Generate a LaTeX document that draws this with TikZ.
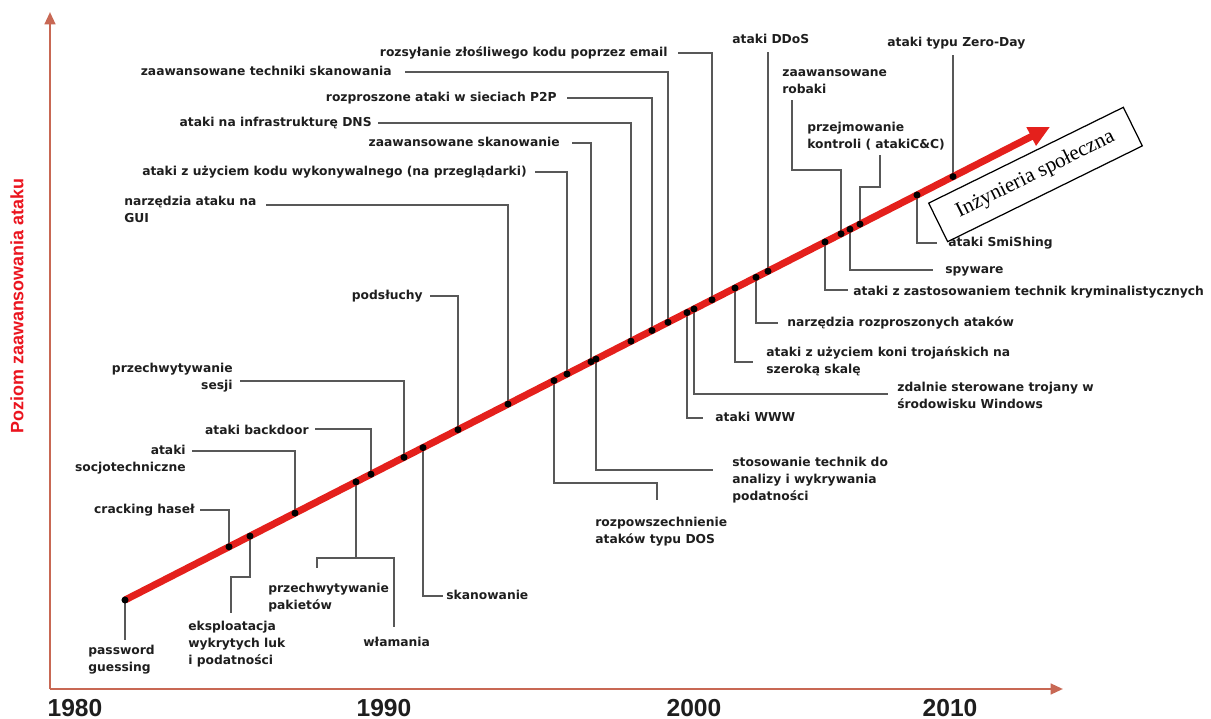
\documentclass[tikz,border=0pt]{standalone}
\usepackage{fontspec}
\usetikzlibrary{arrows.meta,calc}
\newfontfamily\lblfamily{DejaVu Sans}
\newfontfamily\yearfamily{Liberation Sans}
\newfontfamily\boxfamily{Liberation Serif}
\definecolor{axiscol}{RGB}{200,104,84}
\definecolor{trendred}{RGB}{228,32,28}
\definecolor{leadgray}{RGB}{88,88,88}
\definecolor{txt}{RGB}{30,30,30}
\definecolor{ylabred}{RGB}{235,20,30}
\begin{document}
\begin{tikzpicture}[x=0.02cm,y=-0.02cm,
  lbl/.style={font=\lblfamily\bfseries\fontsize{7}{9.6}\selectfont, text=txt, inner sep=0pt},
  lbll/.style={lbl, anchor=base west, align=left},
  lblr/.style={lbl, anchor=base east, align=right},
  lead/.style={draw=leadgray, line width=0.85pt},
  axis/.style={draw=axiscol, line width=1.4pt, -{Triangle[length=7pt,width=6pt]}},
  year/.style={font=\yearfamily\bfseries\fontsize{14}{16}\selectfont, text=txt, inner sep=0pt},
  evdot/.style={fill=black}]

\useasboundingbox (0,0) rectangle (1211,719);
\fill[white] (0,0) rectangle (1211,719);

% axes
\coordinate (origin) at (50,689);
\coordinate (ytip) at (50,12);
\coordinate (xtip) at (1063,689);
\draw[axis] (origin) -- (ytip);
\draw[axis] (origin) -- (xtip);

\node[font=\yearfamily\bfseries\fontsize{10.2}{12}\selectfont, text=ylabred, rotate=90] (ylab) at (17,306) {Poziom zaawansowania ataku};

\node[year] (y1980) at (75,708) {1980};
\node[year] (y1990) at (384,708) {1990};
\node[year] (y2000) at (694,708) {2000};
\node[year] (y2010) at (950,708) {2010};

% events on the trend line
\coordinate (tStart) at (125,600);
\coordinate (tEnd) at (1050,127);
\coordinate (dPG) at (125,600);
\coordinate (dCrack) at (229,546.8);
\coordinate (dEks) at (250,536.1);
\coordinate (dSoc) at (295,513.1);
\coordinate (dPak) at (356,481.9);
\coordinate (dBack) at (371,474.2);
\coordinate (dSes) at (404,457.3);
\coordinate (dSkan) at (423,447.6);
\coordinate (dPods) at (458,429.7);
\coordinate (dGui) at (508,404.1);
\coordinate (dDos) at (554,380.6);
\coordinate (dKod) at (567,374.0);
\coordinate (dZsk) at (591,361.7);
\coordinate (dStos) at (596,359.1);
\coordinate (dDns) at (631,341.2);
\coordinate (dP2p) at (652,330.5);
\coordinate (dTech) at (668,322.3);
\coordinate (dWww) at (687,312.6);
\coordinate (dZdal) at (694,309.0);
\coordinate (dMail) at (712,299.8);
\coordinate (dKoni) at (735,288.0);
\coordinate (dNarz) at (756,277.3);
\coordinate (dDdos) at (768,271.2);
\coordinate (dKrym) at (825,242.0);
\coordinate (dRob) at (841,233.8);
\coordinate (dSpy) at (850,229.2);
\coordinate (dCc) at (860,224.1);
\coordinate (dSmi) at (917,195.0);
\coordinate (dZero) at (953,176.6);

% free ends of the leader lines
\coordinate (pgE) at (125,640);
\coordinate (crackE) at (200,510);
\coordinate (eksE) at (231,613);
\coordinate (socE) at (192,451);
\coordinate (backE) at (315,429);
\coordinate (pakE) at (317,568);
\coordinate (wlamE) at (394,627);
\coordinate (sesE) at (240,381);
\coordinate (skanE) at (443,596);
\coordinate (podsE) at (430,296);
\coordinate (guiE) at (266,205);
\coordinate (dosE) at (657,500);
\coordinate (kodE) at (535,172);
\coordinate (zskE) at (572,143);
\coordinate (stosE) at (713,470);
\coordinate (dnsE) at (378,123);
\coordinate (p2pE) at (567,98);
\coordinate (techE) at (405,72);
\coordinate (wwwE) at (703,418);
\coordinate (zdalE) at (888,394);
\coordinate (mailE) at (678,53);
\coordinate (koniE) at (753,362);
\coordinate (narzE) at (778,323);
\coordinate (ddosE) at (768,52);
\coordinate (krymE) at (848,290);
\coordinate (robE) at (792,100);
\coordinate (spyE) at (933,270);
\coordinate (ccE) at (880,155);
\coordinate (smiE) at (937,243);
\coordinate (zeroE) at (953,55);

% leader lines
\draw[lead] (dPG) -- (pgE);
\draw[lead] (dCrack) |- (crackE);
\draw[lead] (dEks) |- (231,577) -- (eksE);
\draw[lead] (dSoc) |- (socE);
\draw[lead] (dBack) |- (backE);
\draw[lead] (dPak) -- (356,558);
\draw[lead] (pakE) -- (317,558) -| (wlamE);
\draw[lead] (dSes) |- (sesE);
\draw[lead] (dSkan) |- (skanE);
\draw[lead] (dPods) |- (podsE);
\draw[lead] (dGui) |- (guiE);
\draw[lead] (dDos) |- (657,483) -- (dosE);
\draw[lead] (dKod) |- (kodE);
\draw[lead] (dZsk) |- (zskE);
\draw[lead] (dStos) |- (stosE);
\draw[lead] (dDns) |- (dnsE);
\draw[lead] (dP2p) |- (p2pE);
\draw[lead] (dTech) |- (techE);
\draw[lead] (dWww) |- (wwwE);
\draw[lead] (dZdal) |- (zdalE);
\draw[lead] (dMail) |- (mailE);
\draw[lead] (dKoni) |- (koniE);
\draw[lead] (dNarz) |- (narzE);
\draw[lead] (dDdos) -- (ddosE);
\draw[lead] (dKrym) |- (krymE);
\draw[lead] (dRob) |- (792,170) -- (robE);
\draw[lead] (dSpy) |- (spyE);
\draw[lead] (dCc) |- (880,187) -- (ccE);
\draw[lead] (dSmi) |- (smiE);
\draw[lead] (dZero) -- (zeroE);

% trend arrow
\draw[trendred, line width=4pt, -{Triangle[length=12pt,width=11pt]}] (tStart) -- (tEnd);

% event dots
\foreach \d in {dPG,dCrack,dEks,dSoc,dPak,dBack,dSes,dSkan,dPods,dGui,dDos,dKod,dZsk,dStos,dDns,dP2p,dTech,dWww,dZdal,dMail,dKoni,dNarz,dDdos,dKrym,dRob,dSpy,dCc,dSmi,dZero}
  \fill[evdot] (\d) circle (2pt);

% labels, left aligned (multi-line ones are placed by their last baseline)
\node[lbll] (pg) at (88,671.5) {password\\guessing};
\node[lbll] (eks) at (188,664.5) {eksploatacja\\wykrytych luk\\i podatności};
\node[lbll] (pak) at (268,609.5) {przechwytywanie\\pakietów};
\node[lbll] (wlam) at (363,646.5) {włamania};
\node[lbll] (skan) at (446,599.5) {skanowanie};
\node[lbll] (dos) at (595,543.5) {rozpowszechnienie\\ataków typu DOS};
\node[lbll] (stos) at (732,500.5) {stosowanie technik do\\analizy i wykrywania\\podatności};
\node[lbll] (www) at (715,421.5) {ataki WWW};
\node[lbll] (zdal) at (897,408.5) {zdalnie sterowane trojany w\\środowisku Windows};
\node[lbll] (koni) at (766,373.5) {ataki z użyciem koni trojańskich na\\szeroką skalę};
\node[lbll] (narz) at (787,326.5) {narzędzia rozproszonych ataków};
\node[lbll] (krym) at (853,295.5) {ataki z zastosowaniem technik kryminalistycznych};
\node[lbll] (spy) at (945,273.5) {spyware};
\node[lbll] (smi) at (948,246.5) {ataki SmiShing};
\node[lbll] (rob) at (782,93.5) {zaawansowane\\robaki};
\node[lbll] (cc) at (807,148.5) {przejmowanie\\kontroli ( atakiC\&C)};
\node[lbll] (zero) at (887,46.5) {ataki typu Zero-Day};
\node[lbll] (ddos) at (732,43.5) {ataki DDoS};
\node[lbll] (gui) at (124,222.5) {narzędzia ataku na\\GUI};

% labels, right aligned
\node[lblr] (crack) at (195,513.5) {cracking haseł};
\node[lblr] (soc) at (186,471.5) {ataki\\socjotechniczne};
\node[lblr] (back) at (309,434.5) {ataki backdoor};
\node[lblr] (ses) at (233,389.5) {przechwytywanie\\sesji};
\node[lblr] (pods) at (423,299.5) {podsłuchy};
\node[lblr] (kod) at (527,175.5) {ataki z użyciem kodu wykonywalnego (na przeglądarki)};
\node[lblr] (zsk) at (560,146.5) {zaawansowane skanowanie};
\node[lblr] (dns) at (372,126.5) {ataki na infrastrukturę DNS};
\node[lblr] (p2p) at (557,101.5) {rozproszone ataki w sieciach P2P};
\node[lblr] (tech) at (392,75.5) {zaawansowane techniki skanowania};
\node[lblr] (mail) at (668,56.5) {rozsyłanie złośliwego kodu poprzez email};

% social engineering box
\node[draw=black, fill=white, line width=0.7pt, rotate=26.2, minimum width=4.34cm, minimum height=0.86cm, inner sep=0pt,
  font=\boxfamily\fontsize{12}{14}\selectfont] (soceng) at (1035.5,174.5) {Inżynieria społeczna};
\end{tikzpicture}
\end{document}
